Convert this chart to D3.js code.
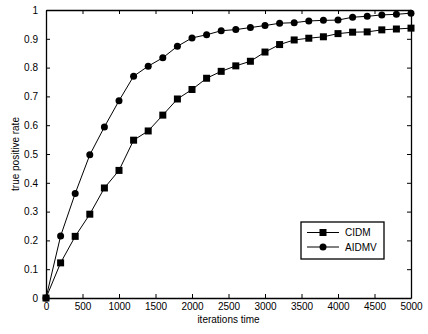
<!DOCTYPE html>
<html lang="en">
<head>
<meta charset="UTF-8">
<title>true positive rate</title>
<style>
  body { margin: 0; background: #fff; }
  svg text { font-family: "Liberation Sans", Arial, sans-serif; font-size: 10px; fill: #000; }
</style>
</head>
<body>
<svg width="428" height="334" id="svg"></svg>
<script src="https://d3js.org/d3.v7.min.js"></script>
<script>
  // iterations
  const iterations = [0, 200, 400, 600, 800, 1000, 1200, 1400, 1600, 1800, 2000, 2200, 2400,
    2600, 2800, 3000, 3200, 3400, 3600, 3800, 4000, 4200, 4400, 4600, 4800, 5000]
  const cidm = [0, 0.122, 0.214, 0.291, 0.382, 0.443, 0.548, 0.580, 0.635, 0.691, 0.724, 0.763, 0.787,
    0.806, 0.822, 0.854, 0.880, 0.896, 0.902, 0.907, 0.918, 0.923, 0.924, 0.931, 0.934, 0.937]
  const aidmv = [0, 0.215, 0.363, 0.497, 0.594, 0.685, 0.770, 0.805, 0.834, 0.874, 0.903, 0.914, 0.928,
    0.932, 0.939, 0.946, 0.954, 0.956, 0.962, 0.964, 0.965, 0.975, 0.978, 0.983, 0.985, 0.989]
  const xTicks = [0, 500, 1000, 1500, 2000, 2500, 3000, 3500, 4000, 4500, 5000]
  const yTicks = [0, 0.1, 0.2, 0.3, 0.4, 0.5, 0.6, 0.7, 0.8, 0.9, 1]
  const seriesNames = ["CIDM", "AIDMV"]

  const svg = d3.select("svg#svg")
  const margin = { top: 10, right: 17, bottom: 36, left: 46 }
  const width = +svg.attr("width") - margin.left - margin.right
  const height = +svg.attr("height") - margin.top - margin.bottom

  const g = svg.append("g").attr("transform", `translate(${margin.left},${margin.top})`)
  const x = d3.scaleLinear().domain([0, 5000]).range([0, width])
  const y = d3.scaleLinear().domain([0, 1]).range([height, 0])

  const fmtY = d => d === 0 ? "0" : d === 1 ? "1" : d3.format(".1f")(d)

  // axes, ticks inside
  g.append("g").attr("transform", `translate(0,${height})`)
    .call(d3.axisBottom(x).tickValues(xTicks).tickSizeInner(-4).tickSizeOuter(0).tickPadding(5).tickFormat(d3.format("d")))
  g.append("g")
    .call(d3.axisLeft(y).tickValues(yTicks).tickSizeInner(-4).tickSizeOuter(0).tickPadding(8).tickFormat(fmtY))
  g.append("g")
    .call(d3.axisTop(x).tickValues(xTicks).tickSizeInner(-4).tickSizeOuter(0).tickFormat(""))
  g.append("g").attr("transform", `translate(${width},0)`)
    .call(d3.axisRight(y).tickValues(yTicks).tickSizeInner(-4).tickSizeOuter(0).tickFormat(""))
  g.selectAll(".domain").attr("stroke", "#000").attr("stroke-width", 1.3)
  g.selectAll(".tick line").attr("stroke", "#000")
  g.selectAll(".tick text").style("font-size", "10px").attr("fill", "#000")

  // lines
  const line = d3.line().x((d, i) => x(iterations[i])).y(d => y(d))
  g.append("path").datum(cidm).attr("d", line).attr("fill", "none").attr("stroke", "#000").attr("stroke-width", 1)
  g.append("path").datum(aidmv).attr("d", line).attr("fill", "none").attr("stroke", "#000").attr("stroke-width", 1)

  g.selectAll("rect.cidm").data(cidm).enter().append("rect")
    .attr("x", (d, i) => x(iterations[i]) - 3.5).attr("y", d => y(d) - 3.5)
    .attr("width", 7).attr("height", 7).attr("fill", "#000")
  g.selectAll("circle.aidmv").data(aidmv).enter().append("circle")
    .attr("cx", (d, i) => x(iterations[i])).attr("cy", d => y(d))
    .attr("r", 3.5).attr("fill", "#000")

  // axis titles
  svg.append("text").attr("x", margin.left + width / 2).attr("y", 323).attr("text-anchor", "middle").text("iterations time")
  svg.append("text").attr("transform", `translate(15,${margin.top + height / 2}) rotate(-90)`)
    .attr("text-anchor", "middle").attr("dy", "0.35em").text("true positive rate")

  // legend
  const lg = svg.append("g").attr("transform", "translate(301,222)")
  lg.append("rect").attr("width", 83).attr("height", 37).attr("fill", "#fff").attr("stroke", "#000").attr("stroke-width", 1.3)
  seriesNames.forEach((name, i) => {
    const yy = 10.5 + i * 14.5
    lg.append("line").attr("x1", 6).attr("x2", 38).attr("y1", yy).attr("y2", yy).attr("stroke", "#000")
    if (i === 0) lg.append("rect").attr("x", 18.5).attr("y", yy - 3.5).attr("width", 7).attr("height", 7)
    else lg.append("circle").attr("cx", 22).attr("cy", yy).attr("r", 3.5)
    lg.append("text").attr("x", 44).attr("y", yy).attr("dy", "0.35em").text(name)
  })
</script>
</body>
</html>
